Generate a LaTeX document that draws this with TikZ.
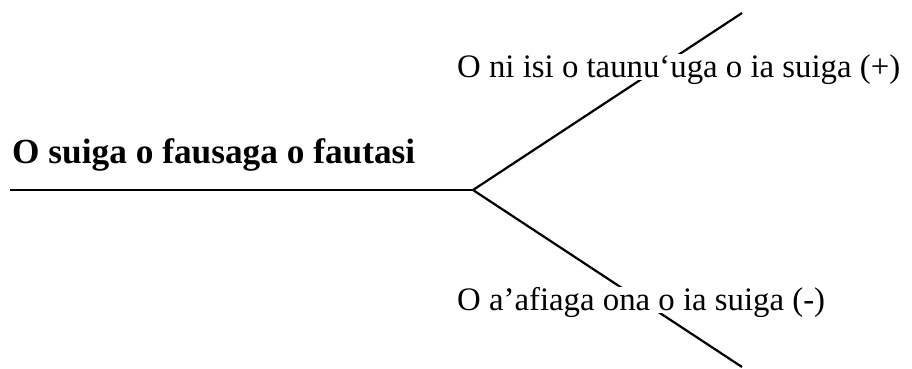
\documentclass[tikz,border=0pt]{standalone}
\usepackage{fontspec}
\setmainfont{Liberation Serif}
\usetikzlibrary{calc}
\usetikzlibrary{positioning}

\tikzset{
  branch/.style={line width=2.2pt,black},
  outcome/.style={anchor=base west,fill=white,inner sep=0pt,text height=23pt,text depth=3pt,
    font=\fontsize{32.8}{39}\selectfont},
  topic/.style={anchor=base west,inner sep=0pt,font=\fontsize{35.3}{42}\selectfont\bfseries}
}

\begin{document}
\begin{tikzpicture}[x=1pt,y=-1pt]
\useasboundingbox (0,0) rectangle (912,368);

\coordinate (stem) at (10,190);
\coordinate (fork) at (473,190);
\coordinate (plusend) at (742,13);
\coordinate (minusend) at (742,367);

\draw[branch] (stem) -- (fork);
\draw[branch] (fork) -- (plusend);
\draw[branch] (fork) -- (minusend);

\node[topic] (change) at (12,163) {O suiga o fausaga o fautasi};
\node[outcome] (plus) at (457,77) {O ni isi o taunu‘uga o ia suiga (+)};
\node[outcome] (minus) at (457,310) {O a’afiaga ona o ia suiga (-)};

\end{tikzpicture}
\end{document}
